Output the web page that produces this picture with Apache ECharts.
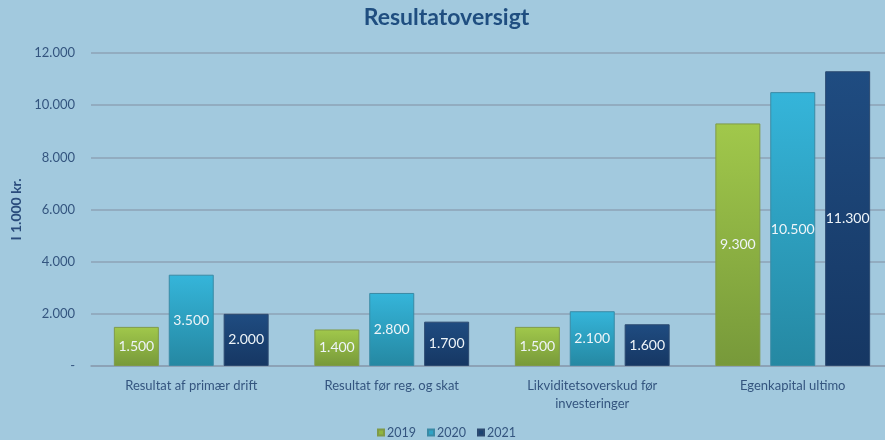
<!DOCTYPE html>
<html>
<head>
<meta charset="utf-8">
<script src="https://cdn.jsdelivr.net/npm/echarts@6/dist/echarts.min.js"></script>
<style>
  html, body { margin: 0; padding: 0; background: #a2c9de; overflow: hidden; }
  #myChart { width: 893px; height: 440px; }
</style>
</head>
<body>
<div id="myChart"></div>
<script>
const categories = ['Resultat af primær drift', 'Resultat før reg. og skat', 'Likviditetsoverskud før\ninvesteringer', 'Egenkapital ultimo'];
const years = ['2019', '2020', '2021'];
const values2019 = [1500, 1400, 1500, 9300];
const values2020 = [3500, 2800, 2100, 10500];
const values2021 = [2000, 1700, 1600, 11300];

const fontName = 'Lato';
const textColor = '#34557f';

// Danish thousand separator
function fmt(v) {
    if (v === 0) return '-';
    return String(v).replace(/\B(?=(\d{3})+(?!\d))/g, '.');
}

function grad(top, bottom) {
    return new echarts.graphic.LinearGradient(0, 0, 0, 1, [
        { offset: 0, color: top },
        { offset: 1, color: bottom }
    ]);
}

const styles = [
    { top: '#a1c84b', bottom: '#77993a', border: '#7f9a48', legend: '#8fb53f' },
    { top: '#35b5da', bottom: '#2588a2', border: '#3a8aa5', legend: '#2ea3c5' },
    { top: '#1f4c81', bottom: '#163763', border: '#2c4a70', legend: '#1b4373' }
];

// the chart is 8px wider than the window so the plot runs past the right edge;
// uneven paddings put title and legend where they sit in the visible 885px
const myChart = echarts.init(document.getElementById('myChart'));

const seriesData = [values2019, values2020, values2021];

const option = {
    backgroundColor: '#a2c9de',
    textStyle: { fontFamily: fontName },
    title: {
        text: 'Resultatoversigt',
        left: 'center',
        top: 1,
        padding: [5, 13, 5, 5],
        textStyle: { fontFamily: fontName, fontSize: 23, fontWeight: 'bold', color: '#1f4e80' }
    },
    legend: {
        data: years.map((y, i) => ({ name: y, itemStyle: { color: styles[i].legend } })),
        bottom: -4,
        left: 'center',
        padding: [5, 5, 5, 22],
        itemWidth: 6,
        itemHeight: 6,
        itemGap: 11,
        icon: 'rect',
        textStyle: { fontFamily: fontName, fontSize: 12.5, color: textColor, padding: [0, 0, 0, -2] }
    },
    grid: { left: 91, right: 0, top: 53, bottom: 74 },
    xAxis: {
        type: 'category',
        data: categories,
        axisTick: { show: false },
        axisLine: { lineStyle: { color: '#8a9fb2', width: 1.5 } },
        axisLabel: { fontFamily: fontName, fontSize: 13, color: textColor, margin: 11, lineHeight: 18, interval: 0 }
    },
    yAxis: {
        type: 'value',
        min: 0,
        max: 12000,
        interval: 2000,
        name: 'I 1.000 kr.',
        nameLocation: 'middle',
        nameGap: 65,
        nameTextStyle: { fontFamily: fontName, fontSize: 14, fontWeight: 'bold', color: '#2a4c7c' },
        axisLine: { show: false },
        axisTick: { show: false },
        axisLabel: { fontFamily: fontName, fontSize: 13, color: textColor, margin: 16, formatter: fmt },
        splitLine: { lineStyle: { color: '#8da2b6', width: 1.5 } }
    },
    series: seriesData.map((d, i) => ({
        name: years[i],
        type: 'bar',
        data: d,
        barWidth: 45,
        barGap: '22%',
        itemStyle: {
            color: grad(styles[i].top, styles[i].bottom),
            borderColor: styles[i].border,
            borderWidth: 1
        },
        label: {
            show: true,
            position: 'inside',
            fontFamily: fontName,
            fontSize: 14,
            color: '#eef4f8',
            formatter: p => fmt(p.value)
        }
    }))
};

myChart.setOption(option);
</script>
</body>
</html>
